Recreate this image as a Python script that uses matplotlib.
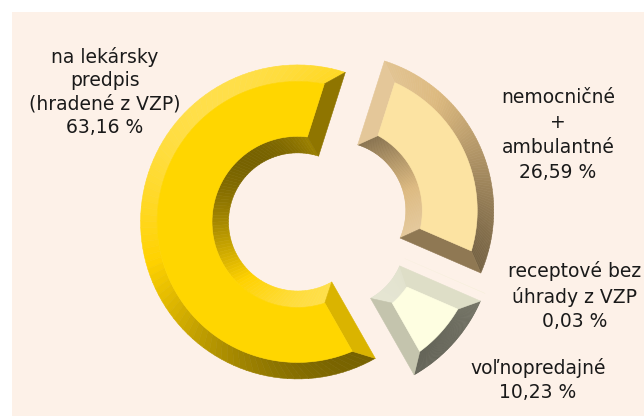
import numpy as np
import matplotlib.pyplot as plt
import matplotlib.colors as mcolors
from matplotlib.collections import PolyCollection
from matplotlib.patches import Rectangle, Wedge

# data (counter-clockwise order, starting at the top right)
names = ["na lekársky\npredpis\n(hradené z VZP)", "voľnopredajné",
         "receptové bez\núhrady z VZP", "nemocničné\n+\nambulantné"]
shares = [63.16, 10.23, 0.03, 26.59]
face_colors = ["#FFD600", "#FEFEE1", "#EEEECC", "#FCE3A2"]
edge_colors = ["#FFD200", "#DADAC0", "#DADAC0", "#DDBA80"]
explode = [0.118, 0.175, 0.175, 0.145]

START = 72.3          # degrees
R, r, BEV = 1.0, 0.44, 0.105

L = np.array([-0.45, 0.7, 0.6])
L = L / np.linalg.norm(L)


def shade(base, nx, ny):
    n = np.array([nx * 0.707, ny * 0.707, 0.707])
    ratio = (n @ L) / L[2]
    f = 1 + 0.42 * (ratio - 1)
    rgb = np.array(mcolors.to_rgb(base))
    if f < 1:
        return tuple(rgb * f)
    return tuple(rgb + (1 - rgb) * min(f - 1, 1))


def pt(cx, cy, rad, ang):
    a = np.radians(ang)
    return np.column_stack([cx + rad * np.cos(a), cy + rad * np.sin(a)])


def bevel_slice(ax, cx, cy, t1, t2, color, ecolor, n=90):
    R2, r2 = R - BEV, r + BEV
    do = np.degrees(np.arcsin(BEV / R2))
    di = np.degrees(np.arcsin(BEV / r2))
    if t2 - t1 <= 2 * di:
        ax.add_patch(Wedge((cx, cy), R, t1, t2, width=R - r, color=color, lw=0))
        return
    a = np.linspace(t1, t2, n)
    ao = np.linspace(t1 + do, t2 - do, n)
    ai = np.linspace(t1 + di, t2 - di, n)
    P_o, P_o2 = pt(cx, cy, R, a), pt(cx, cy, R2, ao)
    P_i, P_i2 = pt(cx, cy, r, a), pt(cx, cy, r2, ai)

    polys, cols = [], []
    for i in range(n - 1):
        m = np.radians((a[i] + a[i + 1]) / 2)
        polys.append([P_o[i], P_o[i + 1], P_o2[i + 1], P_o2[i]])
        cols.append(shade(ecolor, np.cos(m), np.sin(m)))
        polys.append([P_i[i], P_i[i + 1], P_i2[i + 1], P_i2[i]])
        cols.append(shade(ecolor, -np.cos(m), -np.sin(m)))
    # radial end faces
    e1 = np.radians(t1 - 90)
    polys.append([P_o[0], P_i[0], P_i2[0], P_o2[0]])
    cols.append(shade(ecolor, np.cos(e1), np.sin(e1)))
    e2 = np.radians(t2 + 90)
    polys.append([P_o[-1], P_i[-1], P_i2[-1], P_o2[-1]])
    cols.append(shade(ecolor, np.cos(e2), np.sin(e2)))

    ax.add_collection(PolyCollection(polys, facecolors=cols, edgecolors=cols,
                                     linewidths=0.4, zorder=2))
    face = np.vstack([P_o2, P_i2[::-1]])
    ax.add_patch(plt.Polygon(face, closed=True, facecolor=color,
                             edgecolor=color, lw=0.4, zorder=3))


fig = plt.figure(figsize=(6.44, 4.16), dpi=100)
fig.patches.append(Rectangle((12 / 644, 0), 1, 404 / 416, transform=fig.transFigure,
                             facecolor="#FDF1E8", edgecolor="none", zorder=-5))
ax = fig.add_axes([0, 0, 1, 1])
ax.set_facecolor("none")
ax.axis("off")
ax.set_zorder(1)
ax.set_xlim(-316 / 157, 328 / 157)
ax.set_ylim(-196 / 157, 220 / 157)

fr = np.array(shares) / sum(shares) * 360
ang = START
for span, fc, ec, ex in zip(fr, face_colors, edge_colors, explode):
    mid = np.radians(ang + span / 2)
    cx, cy = ex * np.cos(mid), ex * np.sin(mid)
    bevel_slice(ax, cx, cy, ang, ang + span, fc, ec)
    ang += span


def pct(v):
    return f"{v:.2f}".replace(".", ",") + " %"


label_pos = [(105, 92, 1.31), (538, 380, 1.36), (575, 296, 1.36), (558, 135, 1.40)]
for name, v, (x, y, ls) in zip(names, shares, label_pos):
    fig.text(x / 644, 1 - y / 416, name + "\n" + pct(v), ha="center", va="center",
             fontsize=13.5, color="#1a1a1a", linespacing=ls, family="DejaVu Sans",
             zorder=5)

fig.savefig("out.png", dpi=100)
